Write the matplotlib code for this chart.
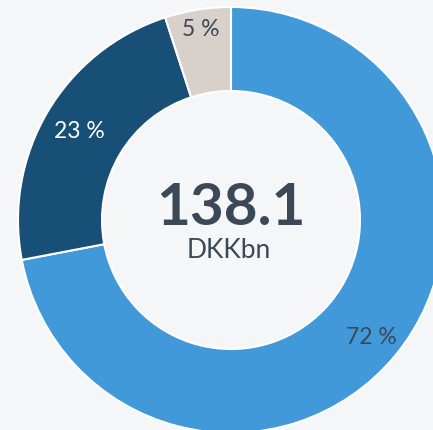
import numpy as np
import matplotlib
matplotlib.use("Agg")
import matplotlib.pyplot as plt

plt.rcParams['font.family'] = ['Lato', 'DejaVu Sans']

# данные
shares = [72, 23, 5]
labels = ['72 %', '23 %', '5 %']
colors = ['#4199DA', '#184F77', '#D8D1CB']
label_colors = ['#3B4856', '#FFFFFF', '#3B4856']
label_r = [182, 176, 194]
total = '138.1'
unit = 'DKKbn'

bg = '#F4F6F8'
fig = plt.figure(figsize=(4.33, 4.31), dpi=100, facecolor=bg)
ax = fig.add_axes([0, 0, 1, 1])
ax.set_facecolor(bg)

R = 213
ax.pie(shares, colors=colors, radius=R, startangle=90, counterclock=False,
       wedgeprops=dict(width=84, edgecolor='white', linewidth=1.5))

# подписи процентов в середине сегментов
start = 0
for s, lab, c, r in zip(shares, labels, label_colors, label_r):
    mid = np.deg2rad((start + s / 2) / 100 * 360)
    ax.text(r * np.sin(mid), r * np.cos(mid), lab, color=c, fontsize=16.5,
            ha='center', va='center')
    start += s

ax.text(0, 12, total, fontsize=42, fontweight='bold', color='#3B4856',
        ha='center', va='center')
ax.text(-2, -29, unit, fontsize=19, color='#3B4856', ha='center', va='center')

ax.set_xlim(-231, 433 - 231)
ax.set_ylim(-(431 - 221), 221)
ax.set_aspect('auto')
ax.axis('off')

fig.savefig('out.png', dpi=100, facecolor=bg)
